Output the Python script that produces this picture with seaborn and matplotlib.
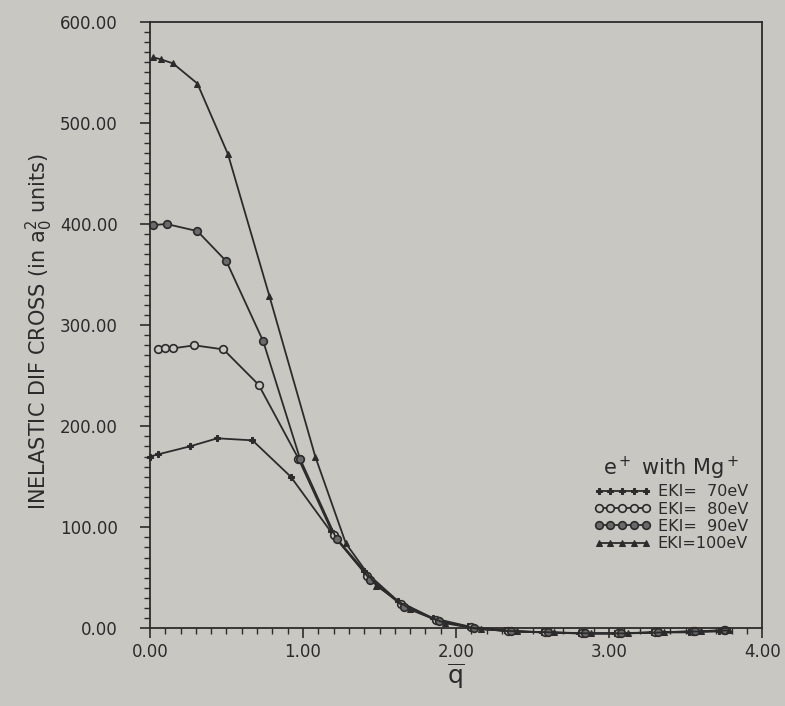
import matplotlib
matplotlib.use("Agg")
import matplotlib.pyplot as plt
import seaborn as sns
import pandas as pd
from matplotlib.ticker import MultipleLocator, FormatStrFormatter

# ---- data ----
q_70 = [0.00, 0.05, 0.26, 0.44, 0.67, 0.92, 1.18, 1.40, 1.62, 1.85, 2.08, 2.32, 2.56, 2.80, 3.04, 3.28, 3.52, 3.72]
v_70 = [170, 172, 180, 188, 186, 150, 96, 57, 27, 10, 2, -2, -4, -5, -5, -4, -4, -3]

q_80 = [0.05, 0.10, 0.15, 0.29, 0.48, 0.71, 0.97, 1.20, 1.42, 1.64, 1.87, 2.10, 2.34, 2.58, 2.82, 3.06, 3.30, 3.55, 3.75]
v_80 = [276, 277, 277, 280, 276, 241, 168, 92, 52, 24, 8, 1, -3, -4, -5, -5, -4, -3, -2]

q_90 = [0.02, 0.11, 0.31, 0.50, 0.74, 0.98, 1.22, 1.44, 1.66, 1.89, 2.12, 2.36, 2.60, 2.84, 3.08, 3.32, 3.56, 3.76]
v_90 = [399, 400, 393, 363, 284, 168, 88, 48, 21, 7, 0, -3, -4, -5, -5, -4, -3, -2]

q_100 = [0.02, 0.07, 0.15, 0.31, 0.51, 0.78, 1.08, 1.28, 1.48, 1.70, 1.93, 2.16, 2.40, 2.64, 2.88, 3.12, 3.36, 3.60, 3.78]
v_100 = [565, 563, 559, 539, 469, 329, 170, 84, 42, 19, 5, -1, -3, -4, -5, -5, -4, -3, -2]

labels = ["EKI=  70eV", "EKI=  80eV", "EKI=  90eV", "EKI=100eV"]
x_ticks = [0, 1, 2, 3, 4]
y_ticks = [0, 100, 200, 300, 400, 500, 600]

bg = "#c8c7c2"
ink = "#2b2b2b"

sns.set_theme(style="ticks")
plt.rcParams["font.family"] = ["DejaVu Sans"]

fig = plt.figure(figsize=(7.85, 7.06), dpi=100, facecolor=bg)
ax = fig.add_axes([0.191, 0.110, 0.780, 0.859], facecolor=bg)

series = [
    (q_70, v_70, labels[0], dict(marker="P", markersize=4, markerfacecolor=ink, markeredgecolor=ink)),
    (q_80, v_80, labels[1], dict(marker="o", markersize=5.5, markerfacecolor=bg, markeredgecolor=ink, markeredgewidth=1.2)),
    (q_90, v_90, labels[2], dict(marker="o", markersize=5.5, markerfacecolor="#6a6a6a", markeredgecolor=ink, markeredgewidth=1.2)),
    (q_100, v_100, labels[3], dict(marker="^", markersize=5, markerfacecolor=ink, markeredgecolor=ink)),
]
for qs, vs, lab, mk in series:
    df = pd.DataFrame({"q": qs, "v": vs})
    sns.lineplot(data=df, x="q", y="v", ax=ax, color=ink, linewidth=1.3,
                 sort=False, label=lab, clip_on=False, **mk)

ax.set_xlim(0, 4)
ax.set_ylim(0, 600)
ax.set_xticks(x_ticks)
ax.set_yticks(y_ticks)
ax.xaxis.set_major_formatter(FormatStrFormatter("%.2f"))
ax.yaxis.set_major_formatter(FormatStrFormatter("%.2f"))
ax.xaxis.set_minor_locator(MultipleLocator(0.1))
ax.yaxis.set_minor_locator(MultipleLocator(10))
ax.tick_params(axis="both", which="major", direction="out", length=7, width=1.2,
               colors=ink, labelsize=12, labelcolor=ink)
ax.tick_params(axis="y", which="major", pad=16)
ax.tick_params(axis="both", which="minor", direction="out", length=4, width=1.0, colors=ink)
for s in ax.spines.values():
    s.set_visible(True)
    s.set_color(ink)
    s.set_linewidth(1.3)

ax.set_xlabel(r"$\overline{\mathrm{q}}$", fontsize=18, color=ink, labelpad=0)
ax.set_ylabel(r"INELASTIC DIF CROSS (in a$_0^2$ units)", fontsize=15, color=ink, labelpad=4)
ax.yaxis.set_label_coords(-0.155, 0.49)

leg = ax.legend(loc="upper right", bbox_to_anchor=(0.995, 0.305), frameon=False,
                title=r"e$^+$ with Mg$^+$", fontsize=11.5, title_fontsize=15,
                numpoints=5, handlelength=3.6, handletextpad=0.4,
                labelspacing=0.15, borderpad=0.2)
for t in leg.get_texts():
    t.set_color(ink)
leg.get_title().set_color(ink)

fig.savefig("out.png", dpi=100, facecolor=bg)
